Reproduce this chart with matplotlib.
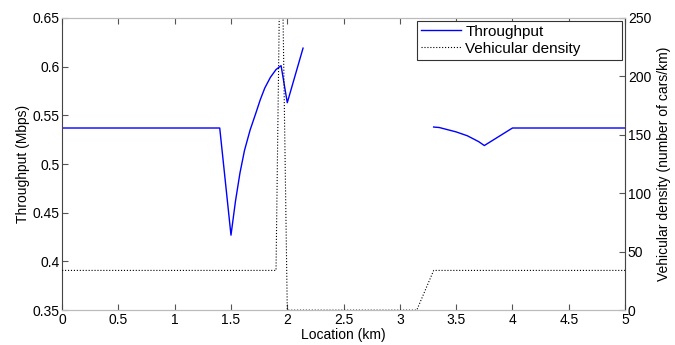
import numpy as np
import matplotlib
matplotlib.use('Agg')
import matplotlib.pyplot as plt

plt.rcParams['font.family'] = ['Liberation Sans', 'DejaVu Sans']

# throughput (Mbps) vs location (km), NaN splits the two segments
tpX = [0, 1.4, 1.5, 1.54, 1.58, 1.62, 1.67, 1.72, 1.76, 1.8, 1.85, 1.9, 1.945, 2.0, 2.14,
       np.nan, 3.3, 3.35, 3.4, 3.5, 3.6, 3.7, 3.75, 4.0, 5.0]
tpY = [0.537, 0.537, 0.427, 0.462, 0.491, 0.514, 0.535, 0.552, 0.566, 0.578, 0.589, 0.597, 0.601, 0.563, 0.619,
       np.nan, 0.538, 0.5375, 0.536, 0.533, 0.529, 0.523, 0.519, 0.537, 0.537]

# vehicular density (cars/km)
denX = [0, 1.9, 1.935, 1.955, 2.0, 3.15, 3.3, 5.0]
denY = [34, 34, 300, 300, 0, 0, 34, 34]

fig = plt.figure(figsize=(6.75, 3.45), dpi=100)
ax1 = fig.add_axes([0.092, 0.101, 0.834, 0.847])
ax2 = ax1.twinx()

l1, = ax1.plot(tpX, tpY, color='#0000ff', lw=1.0, label='Throughput')
l2, = ax2.plot(denX, denY, color='black', lw=0.8, ls=':', label='Vehicular density')

ax1.set_xlim(0, 5)
ax1.set_ylim(0.35, 0.65)
ax2.set_ylim(0, 250)
ax1.set_xticks(np.arange(0, 5.01, 0.5))
ax1.set_xticklabels(['0', '0.5', '1', '1.5', '2', '2.5', '3', '3.5', '4', '4.5', '5'])
ax1.set_yticks(np.arange(0.35, 0.651, 0.05))
ax1.set_yticklabels(['0.35', '0.4', '0.45', '0.5', '0.55', '0.6', '0.65'])
ax2.set_yticks(range(0, 251, 50))

fs = 10
ax1.tick_params(axis='x', direction='in', top=True, labelsize=fs, length=4, color='#555555', pad=2)
ax1.tick_params(axis='y', direction='in', labelsize=fs, length=4, color='#555555', pad=2)
ax2.tick_params(axis='y', direction='in', labelsize=fs, length=4, color='#555555', pad=2)
for ax in (ax1, ax2):
    for s in ax.spines.values():
        s.set_color('#bbbbbb')
        s.set_linewidth(0.8)
ax1.spines['left'].set_color('#444444')
ax2.spines['right'].set_color('#444444')
ax2.spines['left'].set_visible(False)

ax1.set_xlabel('Location (km)', fontsize=fs, labelpad=1)
ax1.set_ylabel('Throughput (Mbps)', fontsize=fs, labelpad=2)
ax2.set_ylabel('Vehicular density (number of cars/km)', fontsize=fs, labelpad=4)

# MATLAB style wide legend box
leg = ax2.legend([l1, l2], ['Throughput', 'Vehicular density'], loc='upper left',
                 bbox_to_anchor=(0.631, 0.856, 0.364, 0.134), mode='expand',
                 fontsize=fs + 1, fancybox=False, framealpha=1, edgecolor='#333333',
                 borderpad=0.25, labelspacing=0.2, handlelength=2.6, handletextpad=0.3,
                 borderaxespad=0)
leg.get_frame().set_linewidth(0.8)

fig.savefig('out.png', dpi=100)
